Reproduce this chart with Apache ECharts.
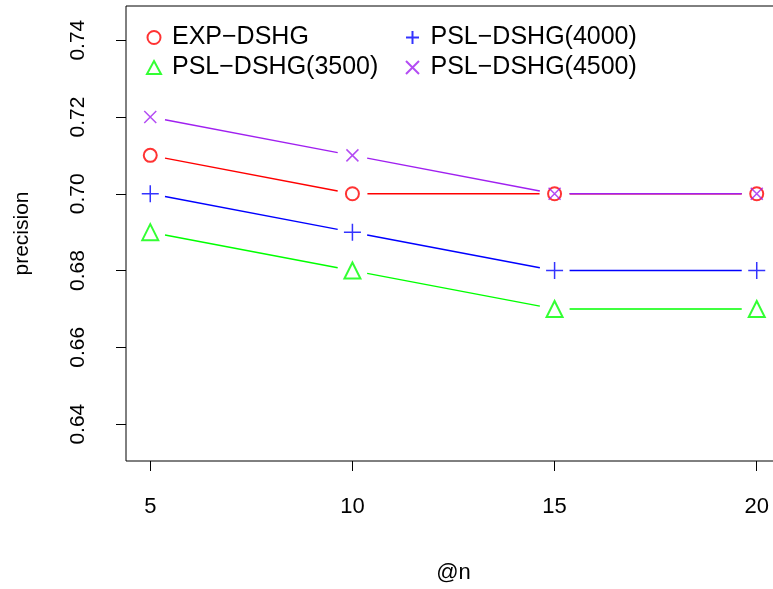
<!DOCTYPE html>
<html>
<head>
<meta charset="utf-8">
<script src="https://cdn.jsdelivr.net/npm/echarts@6/dist/echarts.min.js"></script>
<style>
  html, body { margin: 0; padding: 0; background: #fff; }
  #chart { width: 773px; height: 589px; }
</style>
</head>
<body>
<div id="chart"></div>
<script>
// @n values on x axis
const nValues = [5, 10, 15, 20]
// precision per method
const expDshg = [0.71, 0.70, 0.70, 0.70]
const psl3500 = [0.69, 0.68, 0.67, 0.67]
const psl4000 = [0.70, 0.69, 0.68, 0.68]
const psl4500 = [0.72, 0.71, 0.70, 0.70]
// tick labels
const xTicks = [5, 10, 15, 20]
const yTicks = [0.64, 0.66, 0.68, 0.70, 0.72, 0.74]

const FONT = 'Liberation Sans, Arial, Helvetica, sans-serif'

// method name, values, colour, marker
const methods = [
  { name: 'EXP\u2212DSHG', values: expDshg, color: '#ff0000', symbol: 'emptyCircle', size: 13 },
  { name: 'PSL\u2212DSHG(3500)', values: psl3500, color: '#00ff00', symbol: 'emptyTriangle', size: 16 },
  { name: 'PSL\u2212DSHG(4000)', values: psl4000, color: '#0000ff', symbol: 'path://M0,8L16,8M8,0L8,16', size: 17 },
  { name: 'PSL\u2212DSHG(4500)', values: psl4500, color: '#a020f0', symbol: 'path://M0,0L12,12M12,0L0,12', size: 12 },
]

// R type="b": segments stop short of the points
const GAP = 15
function gapLine(color) {
  return function (params, api) {
    const p0 = api.coord([api.value(0), api.value(1)])
    const p1 = api.coord([api.value(2), api.value(3)])
    const dx = p1[0] - p0[0]
    const dy = p1[1] - p0[1]
    const len = Math.sqrt(dx * dx + dy * dy)
    const ux = dx / len
    const uy = dy / len
    return {
      type: 'line',
      shape: {
        x1: p0[0] + ux * GAP, y1: p0[1] + uy * GAP,
        x2: p1[0] - ux * GAP, y2: p1[1] - uy * GAP,
      },
      style: { stroke: color, lineWidth: 1.4 },
    }
  }
}

let series = []
methods.forEach(m => {
  const segs = []
  for (let i = 1; i < nValues.length; i++) {
    segs.push([nValues[i - 1], m.values[i - 1], nValues[i], m.values[i]])
  }
  series.push({
    name: m.name + ' line',
    type: 'custom',
    renderItem: gapLine(m.color),
    encode: { x: [0, 2], y: [1, 3] },
    data: segs,
    silent: true,
  })
  series.push({
    name: m.name,
    type: 'scatter',
    symbol: m.symbol,
    symbolSize: m.size,
    itemStyle: { color: m.color, borderColor: m.color, borderWidth: 1.5 },
    data: nValues.map((x, i) => [x, m.values[i]]),
  })
})

const legendBase = {
  orient: 'vertical',
  itemWidth: 14,
  itemHeight: 13,
  itemGap: 5,
  top: 20,
  textStyle: { fontFamily: FONT, fontSize: 25, color: '#000', padding: [0, 0, 0, 6] },
}

let option = {
  animation: false,
  backgroundColor: '#fff',
  grid: {
    left: 126,
    top: 6,
    width: 655,
    height: 455,
    show: true,
    borderColor: '#000',
    borderWidth: 1,
    outerBoundsMode: 'none',
  },
  legend: [
    Object.assign({}, legendBase, { left: 141, data: [methods[0].name, methods[1].name] }),
    Object.assign({}, legendBase, { left: 400, data: [methods[2].name, methods[3].name] }),
  ],
  xAxis: {
    type: 'value',
    min: 4.4,
    max: 20.6,
    axisLine: { show: false },
    splitLine: { show: false },
    axisTick: { show: true, customValues: xTicks, length: 10, lineStyle: { color: '#000' } },
    axisLabel: { customValues: xTicks, fontFamily: FONT, fontSize: 22, color: '#000', margin: 35 },
    name: '@n',
    nameLocation: 'middle',
    nameGap: 101,
    nameTextStyle: { fontFamily: FONT, fontSize: 22, color: '#000' },
  },
  yAxis: {
    type: 'value',
    min: 0.6304,
    max: 0.7489,
    axisLine: { show: false },
    splitLine: { show: false },
    axisTick: { show: true, customValues: yTicks, length: 10, lineStyle: { color: '#000' } },
    axisLabel: {
      customValues: yTicks,
      rotate: 90,
      fontFamily: FONT,
      fontSize: 21,
      color: '#000',
      margin: 37,
      formatter: v => v.toFixed(2),
    },
    name: 'precision',
    nameLocation: 'middle',
    nameRotate: 90,
    nameGap: 93,
    nameTextStyle: { fontFamily: FONT, fontSize: 21, color: '#000' },
  },
  series: series,
}

const myChart = echarts.init(document.getElementById('chart'))
myChart.setOption(option)
</script>
</body>
</html>
